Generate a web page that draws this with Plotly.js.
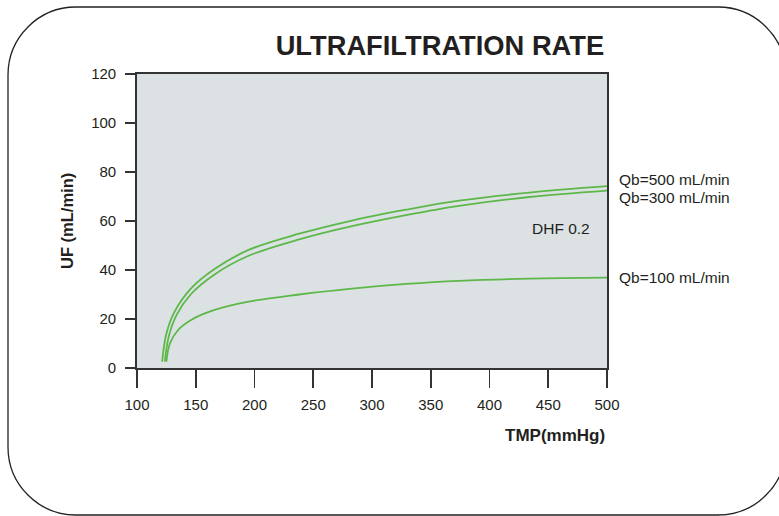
<!DOCTYPE html>
<html>
<head>
<meta charset="utf-8">
<script src="https://cdn.plot.ly/plotly-3.0.1.min.js"></script>
<style>
  html, body { margin: 0; padding: 0; width: 779px; height: 516px; overflow: hidden; background: #fff; }
  #chart { position: absolute; left: 0; top: 0; width: 779px; height: 516px; overflow: hidden; }
</style>
</head>
<body>
<div id="chart"></div>
<script>
// TMP (mmHg) and UF (mL/min)
const tmp500 = [121.4, 125, 132, 146, 166, 195, 238, 283, 329, 374, 434, 500];
const uf500  = [2.6, 14, 23, 32.5, 40.4, 48.2, 54.8, 60.2, 64.6, 68.3, 71.6, 74.2];
const tmp300 = [123.7, 127, 133.6, 146, 166, 195, 238, 283, 329, 374, 434, 500];
const uf300  = [2.6, 12.8, 21.6, 30.2, 38.2, 45.8, 52.5, 57.9, 62.4, 66.2, 69.8, 72.4];
const tmp100 = [125, 128, 135, 146, 166, 195, 238, 283, 329, 374, 434, 500];
const uf100  = [2.6, 10, 15.5, 19.6, 23.7, 27.1, 30.0, 32.4, 34.3, 35.6, 36.5, 36.9];

const seriesNames = ["Qb=500 mL/min", "Qb=300 mL/min", "Qb=100 mL/min"];
const labelY = [77.1, 69.4, 37.1];
const xTicks = [100, 150, 200, 250, 300, 350, 400, 450, 500];
const yTicks = [0, 20, 40, 60, 80, 100, 120];

const green = "#5cb848";
const txt = "#231f20";
const font = "Liberation Sans, Arial, Helvetica, sans-serif";

const W = 779, H = 516;
const M = { l: 137, r: 172, t: 74, b: 148 };

const mk = (x, y, name) => ({
  x: x, y: y, name: name, type: "scatter", mode: "lines",
  line: { color: green, width: 1.8, shape: "spline", smoothing: 1 },
  hoverinfo: "skip"
});

const data = [mk(tmp500, uf500, seriesNames[0]), mk(tmp300, uf300, seriesNames[1]), mk(tmp100, uf100, seriesNames[2])];

// rounded page frame (decoration), built in pixels then converted to paper units
function framePath() {
  const pw = W - M.l - M.r, ph = H - M.t - M.b;
  const P = (px, py) => ((px - M.l) / pw).toFixed(5) + "," + ((H - M.b - py) / ph).toFixed(5);
  const L = 8, R = 786, T = 7, B = 515, r = 68, k = r * 0.5523;
  return "M" + P(L + r, T) + " L" + P(R - r, T) +
    " C" + P(R - r + k, T) + " " + P(R, T + r - k) + " " + P(R, T + r) +
    " L" + P(R, B - r) +
    " C" + P(R, B - r + k) + " " + P(R - r + k, B) + " " + P(R - r, B) +
    " L" + P(L + r, B) +
    " C" + P(L + r - k, B) + " " + P(L, B - r + k) + " " + P(L, B - r) +
    " L" + P(L, T + r) +
    " C" + P(L, T + r - k) + " " + P(L + r - k, T) + " " + P(L + r, T) + " Z";
}

const annotations = seriesNames.map((n, i) => ({
  x: 500, y: labelY[i], xref: "x", yref: "y", text: n, showarrow: false,
  xanchor: "left", yanchor: "middle", xshift: 10,
  font: { family: font, size: 15.5, color: txt }
}));
annotations.push({
  x: 487, y: 57, xref: "x", yref: "y", text: "DHF 0.2", showarrow: false,
  xanchor: "right", yanchor: "middle", font: { family: font, size: 15.5, color: txt }
});
annotations.push({
  x: 1, y: -0.231, xref: "paper", yref: "paper", text: "<b>TMP(mmHg)</b>", showarrow: false,
  xanchor: "right", yanchor: "middle", font: { family: font, size: 17, color: txt }
});
annotations.push({
  x: -0.149, y: 0.5, xref: "paper", yref: "paper", text: "<b>UF (mL/min)</b>", showarrow: false,
  textangle: -90, xanchor: "center", yanchor: "middle", font: { family: font, size: 16.5, color: txt }
});

const layout = {
  width: W, height: H,
  margin: M,
  paper_bgcolor: "#ffffff",
  plot_bgcolor: "#dce1e4",
  showlegend: false,
  title: {
    text: "<b>ULTRAFILTRATION RATE</b>",
    x: 0.994, xref: "paper", xanchor: "right",
    y: 1 - 45 / H, yref: "container", yanchor: "middle",
    font: { family: font, size: 27.3, color: txt }
  },
  xaxis: {
    range: [100, 500], tickvals: xTicks, ticktext: xTicks.map(String),
    showgrid: false, zeroline: false,
    showline: true, mirror: true, linecolor: "#333", linewidth: 1.8,
    ticks: "outside", ticklen: 18, tickwidth: 1.6, tickcolor: "#333",
    ticklabelstandoff: 4,
    tickfont: { family: font, size: 15, color: txt }
  },
  yaxis: {
    range: [0, 120], tickvals: yTicks, ticktext: yTicks.map(String),
    showgrid: false, zeroline: false,
    showline: true, mirror: true, linecolor: "#333", linewidth: 1.8,
    ticks: "outside", ticklen: 10, tickwidth: 1.6, tickcolor: "#333",
    ticklabelstandoff: 6,
    tickfont: { family: font, size: 15, color: txt }
  },
  shapes: [{
    type: "path", xref: "paper", yref: "paper", path: framePath(),
    line: { color: "#222", width: 1.3 }, fillcolor: "rgba(0,0,0,0)", layer: "below"
  }],
  annotations: annotations
};

Plotly.newPlot("chart", data, layout, { displayModeBar: false, staticPlot: true });
</script>
</body>
</html>
